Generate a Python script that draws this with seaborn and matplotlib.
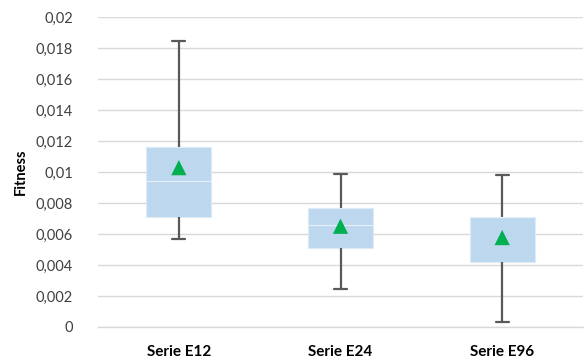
import matplotlib
matplotlib.use("Agg")
import matplotlib.pyplot as plt
import seaborn as sns
import pandas as pd
import numpy as np

categories = ["Serie E12", "Serie E24", "Serie E96"]
mins = [0.00568, 0.00245, 0.00030]
q1s = [0.00710, 0.00510, 0.00420]
medians = [0.00942, 0.00658, 0.00710]
q3s = [0.01161, 0.00768, 0.00710]
maxs = [0.01845, 0.00987, 0.00980]
means = [0.01028, 0.00650, 0.00577]
yticks = [0, 0.002, 0.004, 0.006, 0.008, 0.01, 0.012, 0.014, 0.016, 0.018, 0.02]
ytick_labels = ["0", "0,002", "0,004", "0,006", "0,008", "0,01", "0,012", "0,014", "0,016", "0,018", "0,02"]

rows = []
for c, a, b, m, d, e in zip(categories, mins, q1s, medians, q3s, maxs):
    for v in (a, b, m, d, e):
        rows.append({"serie": c, "fitness": v})
df = pd.DataFrame(rows)
mean_df = pd.DataFrame({"serie": categories, "fitness": means})

sns.set_theme(style="white")
plt.rcParams["font.family"] = ["Lato", "DejaVu Sans"]

fig = plt.figure(figsize=(5.84, 3.63), dpi=100)
ax = fig.add_axes([98 / 584, (363 - 327) / 363, (583 - 98) / 584, (327 - 17) / 363])

sns.boxplot(data=df, x="serie", y="fitness", whis=(0, 100), width=0.4, ax=ax,
            color="#bdd7ee", saturation=1, linewidth=1.6,
            boxprops=dict(facecolor="#bdd7ee", edgecolor="#ddeaf7", linewidth=0.8),
            medianprops=dict(color="#e6f0fa", linewidth=0.8),
            whiskerprops=dict(color="#595959", linewidth=1.6),
            capprops=dict(color="#595959", linewidth=1.6),
            showfliers=False, zorder=3)

# narrower caps
for line in ax.lines:
    xd = np.asarray(line.get_xdata(), dtype=float)
    yd = np.asarray(line.get_ydata(), dtype=float)
    if len(yd) == 2 and yd[0] == yd[1] and abs(xd[1] - xd[0]) > 0.01:
        if matplotlib.colors.to_hex(line.get_color()) == "#595959":
            c = (xd[0] + xd[1]) / 2
            line.set_xdata([c - 0.04, c + 0.04])

sns.scatterplot(data=mean_df, x="serie", y="fitness", marker="^", s=120,
                color="#00b050", edgecolor="none", ax=ax, zorder=5)

ax.set_ylim(0, 0.02)
ax.set_xlim(-0.5, 2.5)
ax.set_yticks(yticks)
ax.set_yticklabels(ytick_labels, fontsize=10.5, color="#404040")
ax.yaxis.grid(True, color="#d9d9d9", linewidth=1)
ax.set_axisbelow(True)
for s in ["top", "right", "left"]:
    ax.spines[s].set_visible(False)
ax.spines["bottom"].set_color("#d9d9d9")
ax.spines["bottom"].set_linewidth(1)
ax.tick_params(axis="y", length=0, pad=18)
ax.set_xticks(range(len(categories)))
ax.set_xticklabels(categories, fontsize=11, fontweight="bold", color="#000000")
ax.tick_params(axis="x", length=0, pad=13)
ax.set_xlabel("")
ax.set_ylabel("Fitness", fontsize=10.5, fontweight="bold", color="#000000", labelpad=6)

fig.savefig("out.png", dpi=100)
